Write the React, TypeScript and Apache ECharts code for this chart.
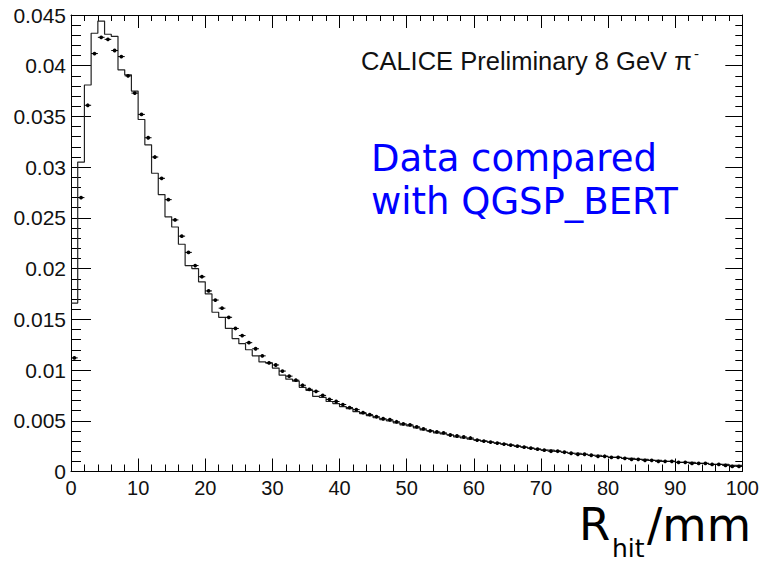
import React, { useEffect, useRef } from "react";
import * as echarts from "echarts";

// Bin index k covers R_hit in [k, k+1) mm
const dataValues: number[] = [
  0.0112, 0.027, 0.0361, 0.0412, 0.0428, 0.0426, 0.0415, 0.0409, 0.039, 0.0373,
  0.0352, 0.0329, 0.031, 0.0289, 0.0268, 0.0248, 0.0232, 0.0216, 0.0203, 0.0192,
  0.0178, 0.0169, 0.0161, 0.0152, 0.0141, 0.0134, 0.0127, 0.0121, 0.0114, 0.0107,
  0.0105, 0.0099, 0.0094, 0.009, 0.0085, 0.0081, 0.0079, 0.0075, 0.0071, 0.0069,
  0.0066, 0.0063, 0.0061, 0.0058, 0.0056, 0.0054, 0.0052, 0.0051, 0.0049, 0.0047,
  0.0046, 0.0044, 0.0042, 0.004, 0.0039, 0.0038, 0.0036, 0.0035, 0.0034, 0.0033,
  0.0031, 0.003, 0.0029, 0.0028, 0.0027, 0.0026, 0.0025, 0.0024, 0.0023, 0.0022,
  0.0021, 0.002, 0.002, 0.0019, 0.0018, 0.0017, 0.0017, 0.0016, 0.0015, 0.0015,
  0.0014, 0.0014, 0.0013, 0.0012, 0.0012, 0.0011, 0.0011, 0.001, 0.001, 0.001,
  0.0009, 0.0009, 0.0008, 0.0008, 0.0008, 0.0007, 0.0007, 0.0006, 0.0005, 0.0005,
];

const mcValues: number[] = [
  0.0166, 0.0305, 0.0381, 0.0432, 0.0444, 0.0431, 0.0429, 0.0396, 0.0391, 0.0375,
  0.0347, 0.0322, 0.0294, 0.0273, 0.0251, 0.0241, 0.0224, 0.0203, 0.02, 0.0187,
  0.0175, 0.0157, 0.0152, 0.0141, 0.0131, 0.0126, 0.012, 0.0114, 0.0108, 0.0107,
  0.0102, 0.0095, 0.0091, 0.0089, 0.0083, 0.008, 0.0074, 0.0073, 0.0069, 0.0067,
  0.0064, 0.0062, 0.0059, 0.0057, 0.0055, 0.0053, 0.0051, 0.005, 0.0048, 0.0046,
  0.0045, 0.0043, 0.0041, 0.004, 0.0038, 0.0037, 0.0036, 0.0034, 0.0033, 0.0032,
  0.0031, 0.003, 0.0029, 0.0028, 0.0027, 0.0026, 0.0025, 0.0024, 0.0023, 0.0022,
  0.0021, 0.0021, 0.002, 0.0019, 0.0018, 0.0018, 0.0017, 0.0016, 0.0016, 0.0015,
  0.0014, 0.0014, 0.0013, 0.0013, 0.0012, 0.0012, 0.0011, 0.0011, 0.001, 0.001,
  0.0009, 0.0009, 0.0009, 0.0008, 0.0008, 0.0007, 0.0007, 0.0007, 0.0006, 0.0006,
];

const xMin = 0;
const xMax = 100;
const xInterval = 10;
const yMin = 0;
const yMax = 0.045;
const yInterval = 0.005;

const labelTitle = "CALICE Preliminary 8 GeV \u03c0";
const labelSup = "-";
const blueLine1 = "Data compared";
const blueLine2 = "with QGSP_BERT";
const axisTitleMain = "R";
const axisTitleSub = "hit";
const axisTitleUnit = "/mm";

export default function App() {
  const ref = useRef<HTMLDivElement>(null);
  useEffect(() => {
    if (!ref.current) return;
    const chart = echarts.init(ref.current, undefined, { renderer: "svg" });

    const binWidth = 1;
    const mcSteps: number[][] = mcValues.map((v, k) => [xMin + k * binWidth, v]);
    mcSteps.push([xMin + mcValues.length * binWidth, mcValues[mcValues.length - 1]]);
    const dataPoints: number[][] = dataValues.map((v, k) => [xMin + (k + 0.5) * binWidth, v]);

    const labelFont = "'Liberation Sans', Arial, sans-serif";
    const fmtY = (v: number) => String(+v.toFixed(3));

    const option: any = {
      animation: false,
      backgroundColor: "#ffffff",
      grid: { left: 71, top: 15, width: 672, height: 456.5, containLabel: false },
      xAxis: [
        {
          type: "value",
          min: xMin,
          max: xMax,
          interval: xInterval,
          position: "bottom",
          axisLine: { show: true, onZero: false, lineStyle: { color: "#000", width: 1 } },
          axisTick: { show: true, inside: true, length: 13, lineStyle: { color: "#000" } },
          minorTick: { show: true, splitNumber: 5, length: 7, lineStyle: { color: "#000" } },
          splitLine: { show: false },
          axisLabel: { show: true, fontFamily: labelFont, fontSize: 20, color: "#111", margin: 6 },
        },
        {
          type: "value",
          min: xMin,
          max: xMax,
          interval: xInterval,
          position: "top",
          axisLine: { show: true, onZero: false, lineStyle: { color: "#000", width: 1 } },
          axisTick: { show: true, inside: true, length: 13, lineStyle: { color: "#000" } },
          minorTick: { show: true, splitNumber: 5, length: 6, lineStyle: { color: "#000" } },
          splitLine: { show: false },
          axisLabel: { show: false },
        },
      ],
      yAxis: [
        {
          type: "value",
          min: yMin,
          max: yMax,
          interval: yInterval,
          position: "left",
          axisLine: { show: true, onZero: false, lineStyle: { color: "#000", width: 1 } },
          axisTick: { show: true, inside: true, length: 20, lineStyle: { color: "#000" } },
          minorTick: { show: true, splitNumber: 5, length: 10, lineStyle: { color: "#000" } },
          splitLine: { show: false },
          axisLabel: { show: true, fontFamily: labelFont, fontSize: 21, color: "#111", margin: 5, formatter: fmtY },
        },
        {
          type: "value",
          min: yMin,
          max: yMax,
          interval: yInterval,
          position: "right",
          axisLine: { show: true, onZero: false, lineStyle: { color: "#000", width: 1 } },
          axisTick: { show: true, inside: true, length: 17, lineStyle: { color: "#000" } },
          minorTick: { show: true, splitNumber: 5, length: 7, lineStyle: { color: "#000" } },
          splitLine: { show: false },
          axisLabel: { show: false },
        },
      ],
      series: [
        {
          name: "QGSP_BERT",
          type: "line",
          xAxisIndex: 0,
          yAxisIndex: 0,
          step: "end",
          symbol: "none",
          data: mcSteps,
          lineStyle: { color: "#222", width: 1.2 },
          z: 2,
        },
        {
          name: "Data",
          type: "custom",
          xAxisIndex: 0,
          yAxisIndex: 0,
          data: dataPoints,
          z: 3,
          renderItem: (params: any, api: any) => {
            const x = api.value(0);
            const y = api.value(1);
            const c = api.coord([x, y]);
            const l = api.coord([x - binWidth / 2, y]);
            const r = api.coord([x + binWidth / 2, y]);
            return {
              type: "group",
              children: [
                {
                  type: "line",
                  shape: { x1: l[0], y1: l[1], x2: r[0], y2: r[1] },
                  style: { stroke: "#000", lineWidth: 1 },
                },
                {
                  type: "circle",
                  shape: { cx: c[0], cy: c[1], r: 1.9 },
                  style: { fill: "#000" },
                },
              ],
            };
          },
        },
      ],
      graphic: [
        {
          type: "text",
          x: 361,
          y: 61,
          style: {
            text: labelTitle,
            font: "25.5px 'Liberation Sans', Arial, sans-serif",
            fill: "#111",
            align: "left",
            verticalAlign: "middle",
          },
        },
        {
          type: "text",
          x: 694,
          y: 53,
          style: {
            text: labelSup,
            font: "15px 'Liberation Sans', Arial, sans-serif",
            fill: "#111",
            align: "left",
            verticalAlign: "middle",
            lineHeight: 12,
          },
        },
        {
          type: "text",
          x: 371,
          y: 158,
          style: {
            text: blueLine1,
            font: "37px 'DejaVu Sans'",
            fill: "#0000ff",
            align: "left",
            verticalAlign: "middle",
          },
        },
        {
          type: "text",
          x: 371,
          y: 201,
          style: {
            text: blueLine2,
            font: "37px 'DejaVu Sans'",
            fill: "#0000ff",
            align: "left",
            verticalAlign: "middle",
          },
        },
        {
          type: "text",
          x: 579,
          y: 524,
          style: {
            text: axisTitleMain,
            font: "45px 'DejaVu Sans'",
            fill: "#000",
            align: "left",
            verticalAlign: "middle",
            lineHeight: 34,
          },
        },
        {
          type: "text",
          x: 612,
          y: 548,
          style: {
            text: axisTitleSub,
            font: "25px 'DejaVu Sans'",
            fill: "#000",
            align: "left",
            verticalAlign: "middle",
            lineHeight: 18,
          },
        },
        {
          type: "text",
          x: 647,
          y: 525,
          style: {
            text: axisTitleUnit,
            font: "45.5px 'DejaVu Sans'",
            fill: "#000",
            align: "left",
            verticalAlign: "middle",
            lineHeight: 34,
          },
        },
      ],
    };

    chart.setOption(option);
    return () => chart.dispose();
  }, []);

  return <div ref={ref} style={{ width: 762, height: 561, position: "absolute", left: 0, top: 0 }} />;
}
